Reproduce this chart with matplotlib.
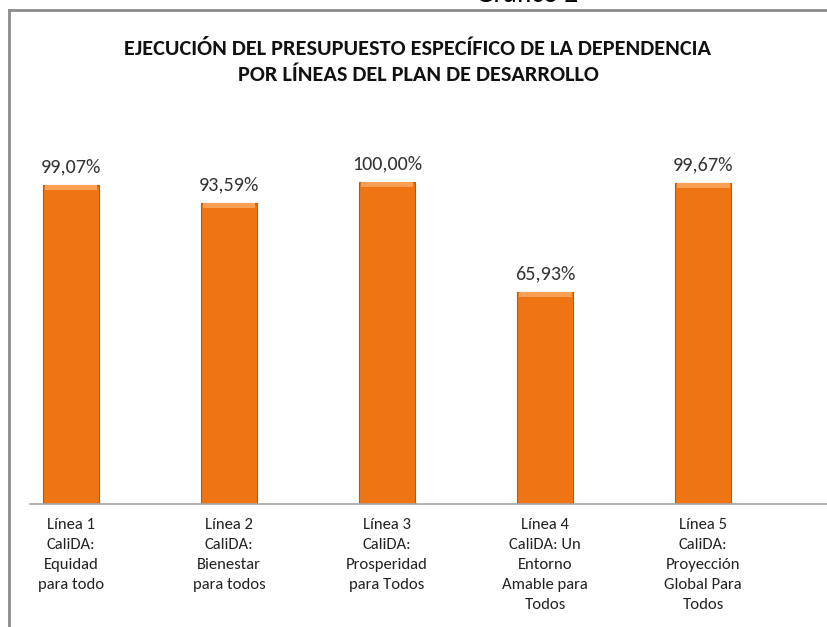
import matplotlib
matplotlib.use("Agg")
import matplotlib.pyplot as plt
from matplotlib.lines import Line2D

# data
categorias = [
    "Línea 1\nCaliDA:\nEquidad\npara todo",
    "Línea 2\nCaliDA:\nBienestar\npara todos",
    "Línea 3\nCaliDA:\nProsperidad\npara Todos",
    "Línea 4\nCaliDA: Un\nEntorno\nAmable para\nTodos",
    "Línea 5\nCaliDA:\nProyección\nGlobal Para\nTodos",
]
ejecucion = [99.07, 93.59, 100.00, 65.93, 99.67]
etiquetas = ["99,07%", "93,59%", "100,00%", "65,93%", "99,67%"]
titulo = ("EJECUCIÓN DEL PRESUPUESTO ESPECÍFICO DE LA DEPENDENCIA\n"
          "POR LÍNEAS DEL PLAN DE DESARROLLO")

fuente = ["Carlito", "DejaVu Sans"]

W, H = 828, 627
fig = plt.figure(figsize=(W / 100, H / 100), dpi=100)

# axes placed in pixel terms
x0, y_base, y_top = 30, 504, 120
ax = fig.add_axes([x0 / W, 1 - y_base / H, (W - x0) / W, (y_base - y_top) / H])
ax.set_ylim(0, (y_base - y_top) / 3.22)
ax.set_xlim(-0.26, 4.79)

x = list(range(len(ejecucion)))
ancho = 0.355
ax.bar(x, ejecucion, width=ancho, color="#EF7413", edgecolor="#B9590C", linewidth=0.8, zorder=2)
# bevel on top of bars
bisel = 1.6
ax.bar(x, [bisel] * len(x), bottom=[v - bisel for v in ejecucion], width=ancho * 0.94,
       color="#F9A054", linewidth=0, zorder=3)

for xi, v, t in zip(x, ejecucion, etiquetas):
    ax.annotate(t, (xi, v), xytext=(0, 7), textcoords="offset points",
                ha="center", va="bottom", fontsize=14.5, color="#333333",
                family=fuente)

for s in ["top", "right", "left"]:
    ax.spines[s].set_visible(False)
ax.spines["bottom"].set_color("#A6A6A6")
ax.spines["bottom"].set_linewidth(1.2)
ax.set_yticks([])
ax.set_xticks(x)
ax.set_xticklabels(categorias, family=fuente, fontsize=12, color="#222222",
                   linespacing=1.55, va="top")
ax.tick_params(axis="x", length=0, pad=10)

fig.text(418 / W, 1 - 62 / H, titulo, ha="center", va="center", fontsize=16,
         family=fuente, weight="bold", color="#111111", linespacing=1.4)

# chart border (top and left)
fig.add_artist(Line2D([9 / W, 1], [1 - 10 / H, 1 - 10 / H], color="#8C8C8C", lw=2))
fig.add_artist(Line2D([9 / W, 9 / W], [0, 1 - 10 / H], color="#8C8C8C", lw=2))

# caption cut at the top edge
fig.text(527 / W, 1 - 2 / H, "Gráfico 2", ha="center", va="baseline",
         fontsize=20, family=fuente, color="#000000")

fig.savefig("out.png", dpi=100)
